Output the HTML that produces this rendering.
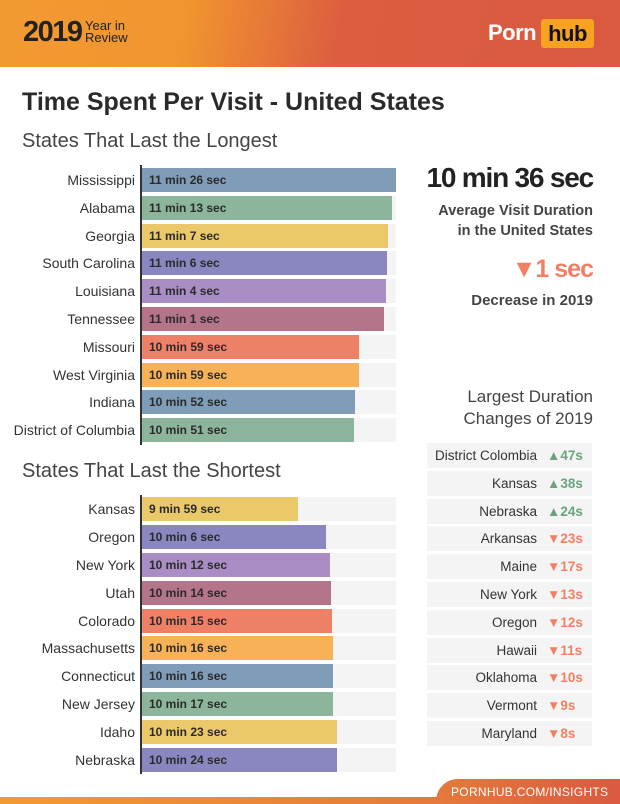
<!DOCTYPE html>
<html><head><meta charset="utf-8"><style>
*{margin:0;padding:0;box-sizing:border-box}
body{width:620px;height:804px;position:relative;background:#fff;font-family:"Liberation Sans",sans-serif;overflow:hidden;color:#333}
.a{position:absolute}
.hdr{left:0;top:0;width:620px;height:67px;background:linear-gradient(100deg,#f29a32 0%,#f0952f 30%,#dc5d40 55%,#d95a40 100%)}
.lbl{position:absolute;right:485px;font-size:14px;color:#333;text-align:right;white-space:nowrap;height:24px;line-height:24px}
.bg{position:absolute;left:142px;width:254px;height:24px;background:#f4f4f4}
.bar{position:absolute;left:142px;height:24px;font-size:12px;font-weight:bold;line-height:24px;padding-left:7px;color:#2a2a2a;white-space:nowrap}
.row{position:absolute;left:427px;width:165px;height:25px;background:#f4f4f4;font-size:13.5px;line-height:25px}
.row .n{position:absolute;right:55px;color:#333;white-space:nowrap}
.row .v{position:absolute;left:120px;font-weight:bold;white-space:nowrap}
.up{color:#6aa37e}.dn{color:#f37f63}
</style></head><body>
<div class="a hdr"></div>
<div class="a" style="left:23px;top:16px;font-size:29px;font-weight:bold;color:#222;letter-spacing:-1.5px">2019</div>
<div class="a" style="left:85px;top:20px;font-size:13px;line-height:12px;color:#222">Year in<br>Review</div>
<div class="a" style="left:488px;top:20px;font-size:22px;font-weight:bold;color:#fff;letter-spacing:-0.5px">Porn</div>
<div class="a" style="left:541px;top:19px;width:53px;height:29px;background:#f7a221;border-radius:3px;font-size:22px;font-weight:bold;color:#111;text-align:center;line-height:29px;letter-spacing:-0.5px">hub</div>
<div class="a" style="left:22px;top:88px;font-size:25px;font-weight:bold;color:#2a2a2a">Time Spent Per Visit - United States</div>
<div class="a" style="left:22px;top:130px;font-size:20px;color:#444">States That Last the Longest</div>
<div class="a" style="left:22px;top:460px;font-size:20px;color:#444">States That Last the Shortest</div>
<div class="a" style="left:140px;top:165px;width:2px;height:280px;background:#333"></div>
<div class="a" style="left:140px;top:495px;width:2px;height:279px;background:#333"></div>

<div class="bg" style="top:168px"></div><div class="bg" style="top:196px"></div><div class="bg" style="top:224px"></div><div class="bg" style="top:251px"></div><div class="bg" style="top:279px"></div><div class="bg" style="top:307px"></div><div class="bg" style="top:335px"></div><div class="bg" style="top:363px"></div><div class="bg" style="top:390px"></div><div class="bg" style="top:418px"></div>
<div class="bg" style="top:497px"></div><div class="bg" style="top:525px"></div><div class="bg" style="top:553px"></div><div class="bg" style="top:581px"></div><div class="bg" style="top:609px"></div><div class="bg" style="top:636px"></div><div class="bg" style="top:664px"></div><div class="bg" style="top:692px"></div><div class="bg" style="top:720px"></div><div class="bg" style="top:748px"></div>

<div class="lbl" style="top:168px">Mississippi</div><div class="bar" style="top:168px;width:254px;background:#7f9db8">11 min 26 sec</div>
<div class="lbl" style="top:196px">Alabama</div><div class="bar" style="top:196px;width:250px;background:#8db59c">11 min 13 sec</div>
<div class="lbl" style="top:224px">Georgia</div><div class="bar" style="top:224px;width:246px;background:#ebc96a">11 min 7 sec</div>
<div class="lbl" style="top:251px">South Carolina</div><div class="bar" style="top:251px;width:245px;background:#8986c0">11 min 6 sec</div>
<div class="lbl" style="top:279px">Louisiana</div><div class="bar" style="top:279px;width:244px;background:#aa8dc5">11 min 4 sec</div>
<div class="lbl" style="top:307px">Tennessee</div><div class="bar" style="top:307px;width:242px;background:#b47489">11 min 1 sec</div>
<div class="lbl" style="top:335px">Missouri</div><div class="bar" style="top:335px;width:217px;background:#ef8068">10 min 59 sec</div>
<div class="lbl" style="top:363px">West Virginia</div><div class="bar" style="top:363px;width:217px;background:#f7b257">10 min 59 sec</div>
<div class="lbl" style="top:390px">Indiana</div><div class="bar" style="top:390px;width:213px;background:#7f9db8">10 min 52 sec</div>
<div class="lbl" style="top:418px">District of Columbia</div><div class="bar" style="top:418px;width:212px;background:#8db59c">10 min 51 sec</div>

<div class="lbl" style="top:497px">Kansas</div><div class="bar" style="top:497px;width:156px;background:#ebc96a">9 min 59 sec</div>
<div class="lbl" style="top:525px">Oregon</div><div class="bar" style="top:525px;width:184px;background:#8986c0">10 min 6 sec</div>
<div class="lbl" style="top:553px">New York</div><div class="bar" style="top:553px;width:188px;background:#aa8dc5">10 min 12 sec</div>
<div class="lbl" style="top:581px">Utah</div><div class="bar" style="top:581px;width:189px;background:#b47489">10 min 14 sec</div>
<div class="lbl" style="top:609px">Colorado</div><div class="bar" style="top:609px;width:190px;background:#ef8068">10 min 15 sec</div>
<div class="lbl" style="top:636px">Massachusetts</div><div class="bar" style="top:636px;width:191px;background:#f7b257">10 min 16 sec</div>
<div class="lbl" style="top:664px">Connecticut</div><div class="bar" style="top:664px;width:191px;background:#7f9db8">10 min 16 sec</div>
<div class="lbl" style="top:692px">New Jersey</div><div class="bar" style="top:692px;width:191px;background:#8db59c">10 min 17 sec</div>
<div class="lbl" style="top:720px">Idaho</div><div class="bar" style="top:720px;width:195px;background:#ebc96a">10 min 23 sec</div>
<div class="lbl" style="top:748px">Nebraska</div><div class="bar" style="top:748px;width:195px;background:#8986c0">10 min 24 sec</div>

<div class="a" style="right:27px;top:162px;font-size:28px;font-weight:bold;color:#222;letter-spacing:-1.2px;white-space:nowrap">10 min 36 sec</div>
<div class="a" style="right:27px;top:201px;font-size:14.5px;font-weight:bold;color:#444;text-align:right;line-height:20px">Average Visit Duration<br>in the United States</div>
<div class="a dn" style="right:27px;top:255px;font-size:25px;font-weight:bold;letter-spacing:-1px;white-space:nowrap">▼1 sec</div>
<div class="a" style="right:27px;top:292px;font-size:15px;font-weight:bold;color:#444">Decrease in 2019</div>
<div class="a" style="right:27px;top:386px;font-size:17px;color:#444;text-align:right;line-height:22px">Largest Duration<br>Changes of 2019</div>

<div class="row" style="top:443px"><span class="n">District Colombia</span><span class="v up">▲47s</span></div>
<div class="row" style="top:471px"><span class="n">Kansas</span><span class="v up">▲38s</span></div>
<div class="row" style="top:499px"><span class="n">Nebraska</span><span class="v up">▲24s</span></div>
<div class="row" style="top:526px"><span class="n">Arkansas</span><span class="v dn">▼23s</span></div>
<div class="row" style="top:554px"><span class="n">Maine</span><span class="v dn">▼17s</span></div>
<div class="row" style="top:582px"><span class="n">New York</span><span class="v dn">▼13s</span></div>
<div class="row" style="top:610px"><span class="n">Oregon</span><span class="v dn">▼12s</span></div>
<div class="row" style="top:638px"><span class="n">Hawaii</span><span class="v dn">▼11s</span></div>
<div class="row" style="top:665px"><span class="n">Oklahoma</span><span class="v dn">▼10s</span></div>
<div class="row" style="top:693px"><span class="n">Vermont</span><span class="v dn">▼9s</span></div>
<div class="row" style="top:721px"><span class="n">Maryland</span><span class="v dn">▼8s</span></div>

<div class="a" style="left:0;top:797px;width:620px;height:7px;background:linear-gradient(90deg,#f29a32,#e06b3e)"></div>
<div class="a" style="left:436px;top:779px;width:184px;height:25px;background:linear-gradient(90deg,#e57a3c,#d95a40);border-top-left-radius:22px 22px"></div>
<div class="a" style="left:451px;top:785px;font-size:12px;color:#fff;letter-spacing:0.3px">PORNHUB.COM/INSIGHTS</div>
</body></html>
